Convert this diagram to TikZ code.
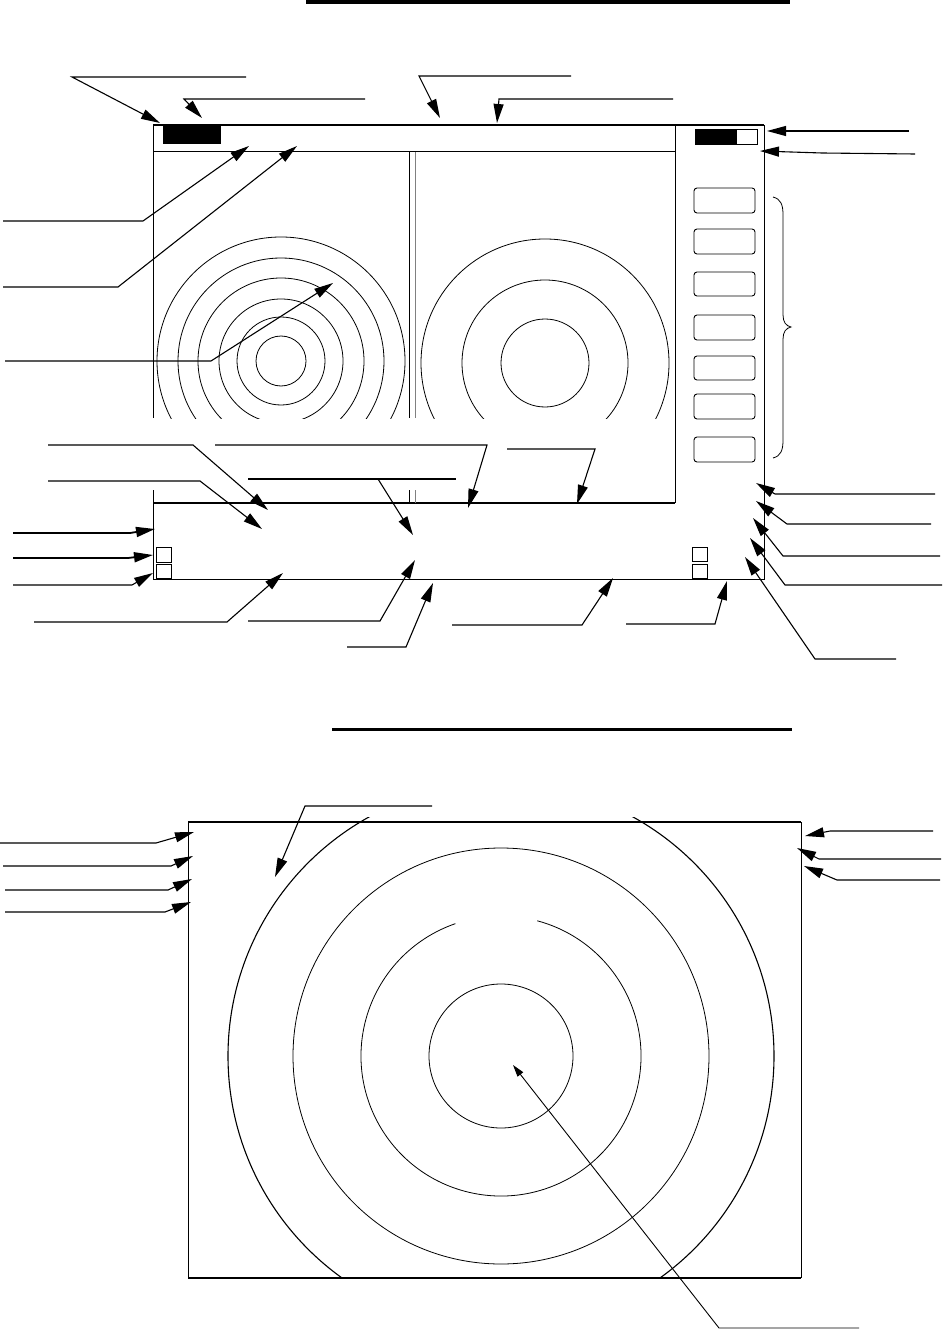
\documentclass[tikz,border=0pt]{standalone}
\usetikzlibrary{arrows.meta}
\begin{document}
\begin{tikzpicture}[x=1pt,y=-1pt,
  ldr/.style={line width=1.1pt,-{Triangle[length=19pt,width=10pt]}},
  ldrs/.style={line width=0.9pt,-{Triangle[length=12pt,width=7pt]}},
  frame/.style={line width=1pt},
  frameb/.style={line width=1.8pt},
  ring/.style={line width=0.8pt},
  btn/.style={draw,rounded corners=3pt,line width=0.9pt},
  sq/.style={draw,line width=0.8pt}]
\useasboundingbox (0,0) rectangle (943,1337);
% ---------- top title bar
\fill (306,0) rectangle (790,4.5);
% ---------- top screen frame
\draw[frameb] (153,125) -- (764,125);
\draw[frame] (153,125) -- (153,418);
\draw[frame] (153,490) -- (153,579) -- (764,579) -- (764,125);
\draw[frame] (153,152) -- (675,152);
\draw[frame] (675,125) -- (675,503);
\draw[frameb] (153,503) -- (675,503);
% separator
\draw[line width=0.8pt] (409,152) -- (409,418) (409,490) -- (409,503);
\draw[line width=0.8pt,gray] (415,152) -- (415,418) (415,490) -- (415,503);
% header blocks
\fill (163,124) rectangle (221,144);
\draw[line width=0.8pt] (695,129) rectangle (757,144);
\fill (695,129) rectangle (737,144);
% buttons
\foreach \yt/\yb in {188/213,229/254,272/296,315/340,356/380,394/419,437/462}
  \draw[btn] (694,\yt) rectangle (755,\yb);
% brace
\draw[line width=0.8pt] (773,197) .. controls (781,199) and (783,205) .. (783,215) -- (783,315)
  .. controls (783,322) and (786,326) .. (791,327) .. controls (786,328) and (783,332) .. (783,339)
  -- (783,440) .. controls (783,450) and (781,456) .. (773,458);
% left radar circles
\begin{scope}
  \clip (153,152) rectangle (409,418);
  \foreach \r in {25,44,62,83,103,124} \draw[ring] (281,361) circle[radius=\r];
\end{scope}
% right radar circles
\begin{scope}
  \clip (415,152) rectangle (675,418);
  \foreach \r in {44,83,124} \draw[ring] (545,363) circle[radius=\r];
\end{scope}
% small squares
\draw[sq] (156,547) rectangle (171,562);
\draw[sq] (156,564) rectangle (171,578);
\draw[sq] (692,547) rectangle (707,561);
\draw[sq] (692,564) rectangle (707,578);
% ---------- top leaders
\draw[ldr] (246,77) -- (72,77) -- (160,123);
\draw[ldr] (365,99) -- (184,99) -- (202,118);
\draw[ldr] (571,76) -- (419,76) -- (440,118);
\draw[ldr] (673,99) -- (499,99) -- (497,123);
\draw[ldr] (909,131) -- (767,131);
\draw[ldr] (915,154) -- (822,153) -- (760,151);
\draw[ldr] (3,221) -- (143,221) -- (249,146);
\draw[ldr] (3,287) -- (118,287) -- (297,146);
\draw[ldr] (5,361) -- (211,361) -- (333,283);
\draw[ldr] (48,445) -- (193,445) -- (268,510);
\draw[ldr] (48,481) -- (200,481) -- (262,529);
\draw[ldr] (215,445) -- (487,445) -- (468,508);
\draw[line width=1.6pt] (248,479) -- (456,479);
\draw[ldr] (378,479) -- (413,535);
\draw[ldr] (507,449) -- (595,449) -- (577,504);
\draw[ldr,line width=1.8pt] (13,533) -- (130,533) -- (155,529);
\draw[ldr,line width=1.8pt] (13,558) -- (128,558) -- (153,555);
\draw[ldr] (13,585) -- (132,585) -- (153,573);
\draw[ldr] (34,622) -- (227,622) -- (283,573);
\draw[ldr] (248,621) -- (380,621) -- (415,560);
\draw[ldr] (347,647) -- (406,647) -- (433,583);
\draw[ldr] (452,625) -- (582,625) -- (613,578);
\draw[ldr] (626,624) -- (715,624) -- (727,581);
\draw[ldr] (935,494) -- (775,494) -- (756,483);
\draw[ldr] (931,524) -- (787,524) -- (756,501);
\draw[ldr] (940,556) -- (783,556) -- (753,518);
\draw[ldr] (942,585) -- (785,585) -- (750,538);
\draw[ldr] (896,659) -- (815,659) -- (745,557);
% ---------- second title bar
\fill (332,727.5) rectangle (792,730.5);
% ---------- bottom screen
\draw[line width=1pt] (188,822) -- (188,1278);
\draw[line width=1pt] (801,822) -- (801,1278);
\draw[frameb] (188,822) -- (801,822);
\draw[frameb] (188,1278) -- (801,1278);
\draw[ring] (501,1056) circle[radius=72];
\draw[ring] (501,1056) circle[radius=208];
\draw[ring] ([shift={(285:140)}]501,1056) arc[start angle=285,end angle=611,radius=140];
\begin{scope}
  \clip (188,817) rectangle (801,1278);
  \draw[line width=1.1pt] (501,1056) circle[radius=273];
\end{scope}
% bottom leaders
\draw[ldr] (432,806) -- (305,806) -- (275,877);
\draw[ldr] (0,843) -- (156,843) -- (194,832);
\draw[ldr] (3,866) -- (171,866) -- (193,856);
\draw[ldr] (5,890) -- (168,890) -- (192,879);
\draw[ldr] (5,912) -- (165,912) -- (191,902);
\draw[ldr] (933,831) -- (830,831) -- (805,836);
\draw[ldr] (941,859) -- (819,859) -- (797,848);
\draw[ldr] (940,880) -- (837,880) -- (804,866);
\draw[ldrs] (859,1328) -- (719,1328) -- (513,1065);
\end{tikzpicture}
\end{document}
